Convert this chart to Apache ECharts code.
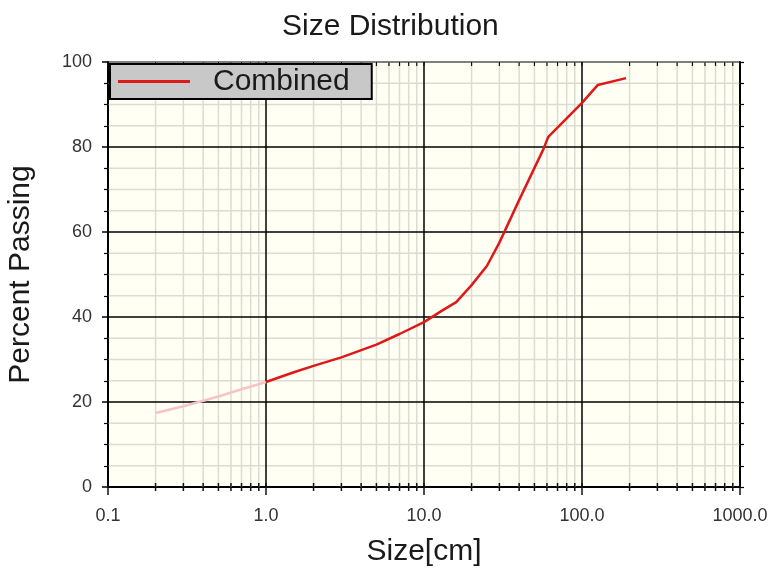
<!DOCTYPE html>
<html>
<head>
<meta charset="utf-8">
<script src="https://cdn.jsdelivr.net/npm/echarts@6/dist/echarts.min.js"></script>
<style>
  html, body { margin: 0; padding: 0; background: #ffffff; }
  #chart { width: 769px; height: 568px; }
</style>
</head>
<body>
<div id="chart"></div>
<script>
// ---- data ----
const chartTitle = 'Size Distribution';
const xAxisName = 'Size[cm]';
const yAxisName = 'Percent Passing';
const seriesName = 'Combined';

// faint (extrapolated) part of the curve
const faintSize = [0.2, 0.3, 0.5, 0.7, 1.0];
const faintPassing = [17.4, 19.0, 21.3, 23.0, 24.7];

// main curve
const size = [1.0, 1.5, 2, 3, 5, 7, 10, 13, 16, 20, 25, 30, 40, 57, 61, 100, 126, 190];
const passing = [24.7, 27.0, 28.5, 30.5, 33.5, 36.0, 38.8, 41.5, 43.5, 47.5, 52.0, 57.5, 67.5, 79.5, 82.3, 90.4, 94.6, 96.2];

// axis ticks
const xMajorTicks = [0.1, 1, 10, 100, 1000];
const xMinorTicks = [0.2, 0.3, 0.4, 0.5, 0.6, 0.7, 0.8, 0.9,
                     2, 3, 4, 5, 6, 7, 8, 9,
                     20, 30, 40, 50, 60, 70, 80, 90,
                     200, 300, 400, 500, 600, 700, 800, 900];
const yMajorTicks = [20, 40, 60, 80];
const yMinorTicks = [5, 10, 15, 25, 30, 35, 45, 50, 55, 65, 70, 75, 85, 90, 95];
const xMin = 0.1, xMax = 1000, yMin = 0, yMax = 100;

// ---- chart ----
const FONT = '"Liberation Sans", Arial, sans-serif';
const chart = echarts.init(document.getElementById('chart'), null, { renderer: 'canvas' });

function vLine(color, width, tickLen) {
  return function (params, api) {
    const v = api.value(0);
    const b = api.coord([v, yMin]);
    const t = api.coord([v, yMax]);
    return {
      type: 'group',
      children: [
        { type: 'line', shape: { x1: b[0], y1: b[1], x2: t[0], y2: t[1] },
          style: { stroke: color, lineWidth: width } },
        { type: 'line', shape: { x1: b[0], y1: b[1] - 4, x2: b[0], y2: b[1] + tickLen },
          style: { stroke: '#111', lineWidth: 1.5 } },
        { type: 'line', shape: { x1: t[0], y1: t[1], x2: t[0], y2: t[1] + 4 },
          style: { stroke: '#111', lineWidth: 1.2 } }
      ]
    };
  };
}
function hLine(color, width) {
  return function (params, api) {
    const v = api.value(1);
    const l = api.coord([xMin, v]);
    const r = api.coord([xMax, v]);
    return { type: 'line', shape: { x1: l[0], y1: l[1], x2: r[0], y2: r[1] },
             style: { stroke: color, lineWidth: width } };
  };
}

const yAxisCommon = {
  type: 'value', min: yMin, max: yMax, interval: 20,
  axisLine: { show: true, lineStyle: { color: '#000', width: 2 } },
  splitLine: { show: false },
  minorSplitLine: { show: false }
};

chart.setOption({
  animation: false,
  backgroundColor: '#ffffff',
  title: {
    text: chartTitle,
    left: 277, top: 7,
    textStyle: { fontFamily: FONT, fontSize: 30, fontWeight: 'normal', color: '#1a1a1a' }
  },
  legend: {
    data: [{ name: seriesName, icon: 'rect' }],
    left: 110, top: 64,
    backgroundColor: '#c8c8c8',
    borderColor: '#000', borderWidth: 2, borderRadius: 0,
    padding: [2, 22, 2, 8],
    itemWidth: 72, itemHeight: 3,
    selectedMode: false,
    textStyle: { fontFamily: FONT, fontSize: 30, color: '#1a1a1a', padding: [0, 0, 0, 18], lineHeight: 31 }
  },
  grid: {
    left: 108, right: 29, top: 62, bottom: 81,
    outerBoundsMode: 'none',
    containLabel: false,
    show: true, backgroundColor: '#fffff4', borderColor: '#000', borderWidth: 1
  },
  xAxis: {
    type: 'log', logBase: 10, min: xMin, max: xMax,
    name: xAxisName, nameLocation: 'middle', nameGap: 50,
    nameTextStyle: { fontFamily: FONT, fontSize: 30, color: '#1a1a1a' },
    axisLine: { show: true, lineStyle: { color: '#000', width: 2 } },
    axisTick: { show: false },
    minorTick: { show: false },
    splitLine: { show: false },
    axisLabel: {
      fontFamily: FONT, fontSize: 18, color: '#333', margin: 20,
      formatter: function (v) { return Number(v).toFixed(1); }
    }
  },
  yAxis: [
    Object.assign({}, yAxisCommon, {
      position: 'left',
      name: yAxisName, nameLocation: 'middle', nameGap: 72, nameRotate: 90,
      nameTextStyle: { fontFamily: FONT, fontSize: 30, color: '#1a1a1a' },
      axisTick: { show: true, length: 6, lineStyle: { color: '#000', width: 1.5 } },
      minorTick: { show: true, splitNumber: 4, length: 4, lineStyle: { color: '#000', width: 1.2 } },
      axisLabel: { fontFamily: FONT, fontSize: 18, color: '#333', margin: 16 }
    }),
    Object.assign({}, yAxisCommon, {
      position: 'right',
      axisTick: { show: true, length: 4, lineStyle: { color: '#000', width: 1.2 } },
      minorTick: { show: true, splitNumber: 4, length: 4, lineStyle: { color: '#000', width: 1.2 } },
      axisLabel: { show: false }
    })
  ],
  series: [
    { type: 'custom', name: 'xMinorGrid', z: 1, clip: false, silent: true,
      renderItem: vLine('#dcdcd2', 1.5, 4),
      data: xMinorTicks.map(function (v) { return [v, yMin]; }) },
    { type: 'custom', name: 'yMinorGrid', z: 1, silent: true,
      renderItem: hLine('#dcdcd2', 1.5),
      data: yMinorTicks.map(function (v) { return [xMin, v]; }) },
    { type: 'custom', name: 'xMajorGrid', z: 2, clip: false, silent: true,
      renderItem: vLine('#000', 1.5, 8),
      data: xMajorTicks.map(function (v) { return [v, yMin]; }) },
    { type: 'custom', name: 'yMajorGrid', z: 2, silent: true,
      renderItem: hLine('#000', 1.5),
      data: yMajorTicks.map(function (v) { return [xMin, v]; }) },
    { type: 'line', name: 'faint', z: 3, silent: true,
      showSymbol: false, symbol: 'none',
      lineStyle: { color: '#f7c3c9', width: 2.5 },
      itemStyle: { color: '#f7c3c9' },
      data: faintSize.map(function (s, i) { return [s, faintPassing[i]]; }) },
    { type: 'line', name: seriesName, z: 4,
      showSymbol: false, symbol: 'none',
      lineStyle: { color: '#dd1a1a', width: 2.5 },
      itemStyle: { color: '#dd1a1a' },
      data: size.map(function (s, i) { return [s, passing[i]]; }) }
  ]
});
</script>
</body>
</html>
